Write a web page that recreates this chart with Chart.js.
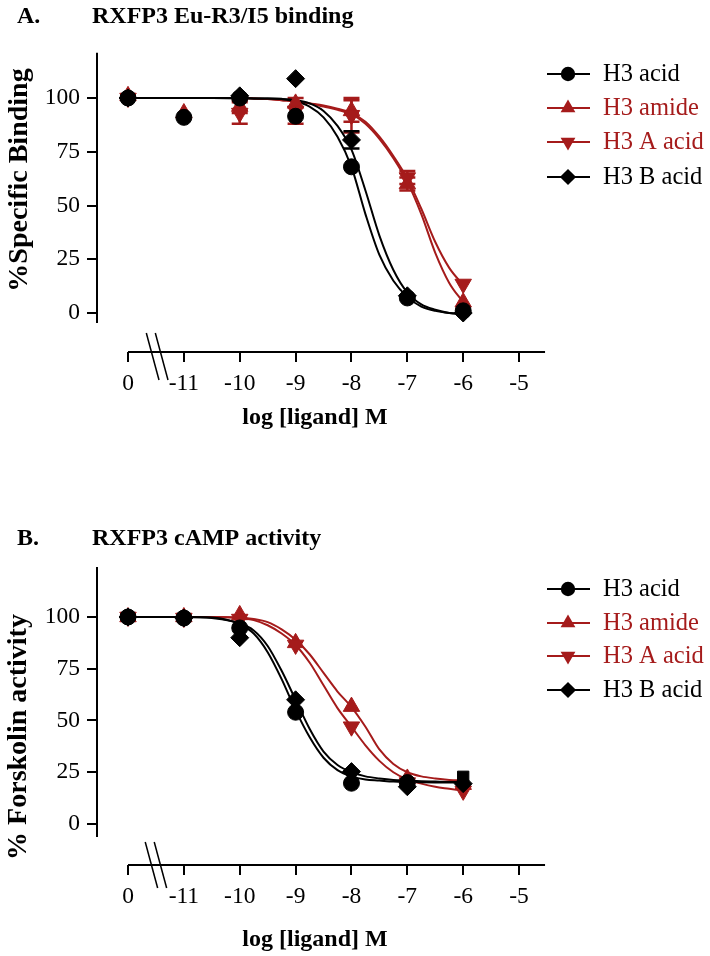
<!DOCTYPE html>
<html>
<head>
<meta charset="utf-8">
<script src="https://cdn.jsdelivr.net/npm/chart.js@4.4.1/dist/chart.umd.min.js"></script>
<style>
html, body { margin: 0; padding: 0; background: #ffffff; }
canvas { position: absolute; left: 0; }
#cA { top: 0; }
#cB { top: 478px; }
</style>
</head>
<body>
<canvas id="cA" width="710" height="478"></canvas>
<canvas id="cB" width="710" height="478"></canvas>
<script>
// ---------------- data ----------------
// x = log [ligand] M ; -12 is the position used for the "0" (no ligand) control
const xDoses = [-12, -11, -10, -9, -8, -7, -6];
const xTickValues = [-12, -11, -10, -9, -8, -7, -6, -5];
const xTickLabels = ['0', '-11', '-10', '-9', '-8', '-7', '-6', '-5'];
const yTickValues = [0, 25, 50, 75, 100];
const seriesNames = ['H3 acid', 'H3 amide', 'H3 A acid', 'H3 B acid'];

// Panel A: RXFP3 Eu-R3/I5 binding (% specific binding)
const bindAcid  = [100, 91, 100, 91.5, 68, 7, 1];
const bindAmide = [101, 93, 96, 97.5, 94, 60, 5];
const bindAAcid = [100, null, 93, 94, 92, 63, 13.5];
const bindBAcid = [100, null, 101, 109, 80.5, 8, 0];
const bindAmideErr = [0, 0, 3, 0, 5, 3, 0];
const bindAAcidErr = [0, 0, 5, 6, 8, 3, 0];
const bindBAcidErr = [0, 0, 0, 0, 4, 0, 0];

// fitted curves
const curveX = [-12, -11.5, -11, -10.5, -10, -9.75, -9.5, -9.25, -9, -8.75, -8.5, -8.25, -8, -7.75, -7.5, -7.25, -7, -6.75, -6.5, -6.25, -6];
const bindAcidFit  = [100, 100, 100, 100, 99.9, 99.8, 99.8, 99.5, 98.5, 96, 91, 82, 68, 46, 27, 15, 7.5, 3, 1, 0, -0.5];
const bindBAcidFit = [100, 100, 100, 100, 99.9, 99.8, 99.8, 99.6, 99, 97.5, 94, 87, 76, 57, 36, 20, 9.5, 4, 1.5, 0, -0.5];
const bindAmideFit = [100, 100, 100, 100, 100, 99.8, 99.5, 99, 98.5, 97.5, 96, 94.5, 92.5, 88, 81, 72, 61, 46, 28, 14, 5];
const bindAAcidFit = [100, 100, 100, 100, 100, 99.8, 99.5, 99, 98.5, 97.5, 96.5, 95, 93, 89, 82, 73, 62.5, 48.5, 33, 21, 13];

// Panel B: RXFP3 cAMP activity (% forskolin activity)
const campAcid  = [100, 99.5, 94.7, 54, 19.7, 20, 22.8];
const campAmide = [100, 100, 101, 87.5, 56.7, 22, 19];
const campAAcid = [100, 99.5, 99, 86.5, 47, 20, 16];
const campBAcid = [100, 99.5, 90, 60, 25.3, 18, 19.5];

const campAcidFit  = [100, 100, 100, 99.7, 96.5, 92, 83, 70, 55, 42, 32, 26, 23, 21.5, 21, 20.5, 20.3, 20.2, 20.1, 20, 20];
const campBAcidFit = [100, 100, 100, 99.5, 97, 93.5, 86, 74, 60, 46, 35, 28.5, 25, 23, 22, 21.3, 21, 20.7, 20.5, 20.3, 20.2];
const campAmideFit = [100, 100, 100, 100, 99.7, 99, 97.5, 94, 89, 82, 73, 64, 56.5, 47, 36, 29, 25, 23, 22, 21.3, 21];
const campAAcidFit = [100, 100, 100, 100, 99.5, 98.5, 96, 92, 86.5, 78, 67, 56, 47, 38, 30.5, 25, 21.5, 19.5, 18, 17, 16];

// ---------------- styles / layout ----------------
const FONT = '"Liberation Serif", "Times New Roman", serif';
const BLACK = '#000000';
const RED = '#a51b1b';
const markerStyles = [
  { color: BLACK, style: 'circle', rot: 0, r: 8 },
  { color: RED, style: 'triangle', rot: 0, r: 9.5 },
  { color: RED, style: 'triangle', rot: 180, r: 9.5 },
  { color: BLACK, style: 'rectRot', rot: 0, r: 9 }
];

const layoutA = { id: 'cA', top: 40, yMin: -18.14, yMax: 126.98, xHeight: 126, yAxisFrom: 121, yAxisTo: -4.65,
  titleBase: 23, yTitleX: 20, yTitleY: 180, xTitleY: 418, legendY: [74, 108, 142, 177], brUp: 19, brDown: 28 };
const layoutB = { id: 'cB', top: 60, yMin: -19.81, yMax: 138.16, xHeight: 91, yAxisFrom: 124.2, yAxisTo: -6.3,
  titleBase: 67, yTitleX: 19, yTitleY: 259, xTitleY: 462, legendY: [111, 145, 178, 212], brUp: 23, brDown: 23 };

function toPts(xs, ys) { return xs.map((x, i) => ({ x: x, y: ys[i] })); }

function drawMarker(ctx, style, rot, r, x, y) {
  ctx.beginPath();
  if (style === 'circle') {
    ctx.arc(x, y, r, 0, Math.PI * 2);
  } else if (style === 'triangle') {
    const s = rot === 180 ? -1 : 1;
    ctx.moveTo(x, y - s * r);
    ctx.lineTo(x + 0.866 * r, y + s * 0.5 * r);
    ctx.lineTo(x - 0.866 * r, y + s * 0.5 * r);
    ctx.closePath();
  } else {
    ctx.moveTo(x - r, y); ctx.lineTo(x, y - r); ctx.lineTo(x + r, y); ctx.lineTo(x, y + r); ctx.closePath();
  }
  ctx.fill();
}

function makeDecor(panel) {
  return {
    id: 'decor',
    beforeDatasetsDraw(chart) {
      const ctx = chart.ctx, xs = chart.scales.x, ys = chart.scales.y;
      ctx.save();
      panel.errors.forEach(e => {
        ctx.strokeStyle = e.color; ctx.lineWidth = 2.5;
        xDoses.forEach((xv, i) => {
          const v = e.values[i], s = e.err[i];
          if (v == null || !s) return;
          const px = xs.getPixelForValue(xv);
          const y1 = ys.getPixelForValue(v + s), y2 = ys.getPixelForValue(v - s);
          ctx.beginPath();
          ctx.moveTo(px, y1); ctx.lineTo(px, y2);
          ctx.moveTo(px - 8, y1); ctx.lineTo(px + 8, y1);
          ctx.moveTo(px - 8, y2); ctx.lineTo(px + 8, y2);
          ctx.stroke();
        });
      });
      ctx.restore();
    },
    afterDraw(chart) {
      const ctx = chart.ctx, xs = chart.scales.x, ys = chart.scales.y, L = panel.lay;
      const area = chart.chartArea;
      ctx.save();
      ctx.strokeStyle = BLACK; ctx.lineWidth = 2;
      // y axis line
      ctx.beginPath();
      ctx.moveTo(area.left, ys.getPixelForValue(L.yAxisFrom));
      ctx.lineTo(area.left, ys.getPixelForValue(L.yAxisTo));
      ctx.stroke();
      // x axis line
      const axY = area.bottom;
      ctx.beginPath();
      ctx.moveTo(xs.getPixelForValue(-12), axY);
      ctx.lineTo(xs.getPixelForValue(-4.535), axY);
      ctx.stroke();
      // axis break marks
      ctx.lineWidth = 1.5;
      const cx = xs.getPixelForValue(-11.5);
      [-4.5, 4.5].forEach(d => {
        const xa = cx + d;
        ctx.beginPath();
        ctx.moveTo(xa - L.brUp * 0.27, axY - L.brUp);
        ctx.lineTo(xa + L.brDown * 0.27, axY + L.brDown);
        ctx.stroke();
      });
      // panel titles
      ctx.fillStyle = BLACK;
      ctx.textBaseline = 'alphabetic'; ctx.textAlign = 'left';
      ctx.font = 'bold 24px ' + FONT;
      ctx.fillText(panel.letter, 17, L.titleBase);
      ctx.fillText(panel.title, 92, L.titleBase);
      // axis titles
      ctx.textAlign = 'center'; ctx.textBaseline = 'middle';
      ctx.font = 'bold 24px ' + FONT;
      ctx.fillText('log [ligand] M', 315, L.xTitleY);
      ctx.save();
      ctx.translate(L.yTitleX, L.yTitleY);
      ctx.rotate(-Math.PI / 2);
      ctx.font = 'bold 28px ' + FONT;
      ctx.fillText(panel.yTitle, 0, 0);
      ctx.restore();
      // legend
      seriesNames.forEach((name, i) => {
        const y = L.legendY[i], m = markerStyles[i];
        ctx.strokeStyle = m.color; ctx.lineWidth = 2;
        ctx.beginPath(); ctx.moveTo(547, y); ctx.lineTo(590, y); ctx.stroke();
        ctx.fillStyle = m.color;
        drawMarker(ctx, m.style, m.rot, m.r * 0.9, 568, y);
        ctx.font = '24.5px ' + FONT; ctx.textAlign = 'left'; ctx.textBaseline = 'middle';
        ctx.fillText(name, 603, y + 1);
      });
      ctx.restore();
    }
  };
}

function buildChart(panel) {
  const L = panel.lay;
  const markerSets = [0, 3, 2, 1].map(i => {
    const m = markerStyles[i];
    return {
      label: seriesNames[i],
      data: toPts(xDoses, panel.values[i]),
      showLine: false,
      pointStyle: panel.pointStyles && panel.pointStyles[i] ? panel.pointStyles[i] : m.style,
      rotation: m.rot,
      pointRadius: m.r,
      pointHoverRadius: m.r,
      backgroundColor: m.color,
      borderColor: m.color,
      borderWidth: 1
    };
  });
  const curveSets = [0, 3, 1, 2].map(i => ({
    label: seriesNames[i] + ' fit',
    data: toPts(curveX, panel.fits[i]),
    showLine: true,
    pointRadius: 0,
    borderColor: markerStyles[i].color,
    borderWidth: 2,
    cubicInterpolationMode: 'monotone',
    fill: false
  }));
  const tickFont = { family: FONT, size: 23.5 };
  return new Chart(document.getElementById(L.id), {
    type: 'scatter',
    data: { datasets: markerSets.concat(curveSets) },
    options: {
      responsive: false,
      animation: false,
      events: [],
      devicePixelRatio: 1,
      layout: { padding: { top: L.top, right: 163, left: 0, bottom: 0 } },
      plugins: { legend: { display: false }, tooltip: { enabled: false }, title: { display: false } },
      scales: {
        x: {
          type: 'linear', min: -12.555, max: -4.5,
          afterBuildTicks: s => { s.ticks = xTickValues.map(v => ({ value: v })); },
          afterFit: s => { s.height = L.xHeight; },
          grid: { display: true, drawOnChartArea: false, drawTicks: true, tickLength: 10, color: BLACK, lineWidth: 2 },
          border: { display: false },
          ticks: { color: BLACK, font: tickFont, padding: 8, maxRotation: 0, autoSkip: false,
                   callback: v => xTickLabels[xTickValues.indexOf(v)] }
        },
        y: {
          type: 'linear', min: L.yMin, max: L.yMax,
          afterBuildTicks: s => { s.ticks = yTickValues.map(v => ({ value: v })); },
          afterFit: s => { s.width = 97; },
          grid: { display: true, drawOnChartArea: false, drawTicks: true, tickLength: 10, color: BLACK, lineWidth: 2 },
          border: { display: false },
          ticks: { color: BLACK, font: tickFont, padding: 7 }
        }
      }
    },
    plugins: [makeDecor(panel)]
  });
}

buildChart({
  lay: layoutA, letter: 'A.', title: 'RXFP3 Eu-R3/I5 binding', yTitle: '%Specific Binding',
  values: [bindAcid, bindAmide, bindAAcid, bindBAcid],
  fits: [bindAcidFit, bindAmideFit, bindAAcidFit, bindBAcidFit],
  errors: [
    { color: RED, values: bindAmide, err: bindAmideErr },
    { color: RED, values: bindAAcid, err: bindAAcidErr },
    { color: BLACK, values: bindBAcid, err: bindBAcidErr }
  ]
});

buildChart({
  lay: layoutB, letter: 'B.', title: 'RXFP3 cAMP activity', yTitle: '% Forskolin activity',
  values: [campAcid, campAmide, campAAcid, campBAcid],
  fits: [campAcidFit, campAmideFit, campAAcidFit, campBAcidFit],
  pointStyles: [['circle', 'circle', 'circle', 'circle', 'circle', 'circle', 'rect'], null, null, null],
  errors: []
});
</script>
</body>
</html>
